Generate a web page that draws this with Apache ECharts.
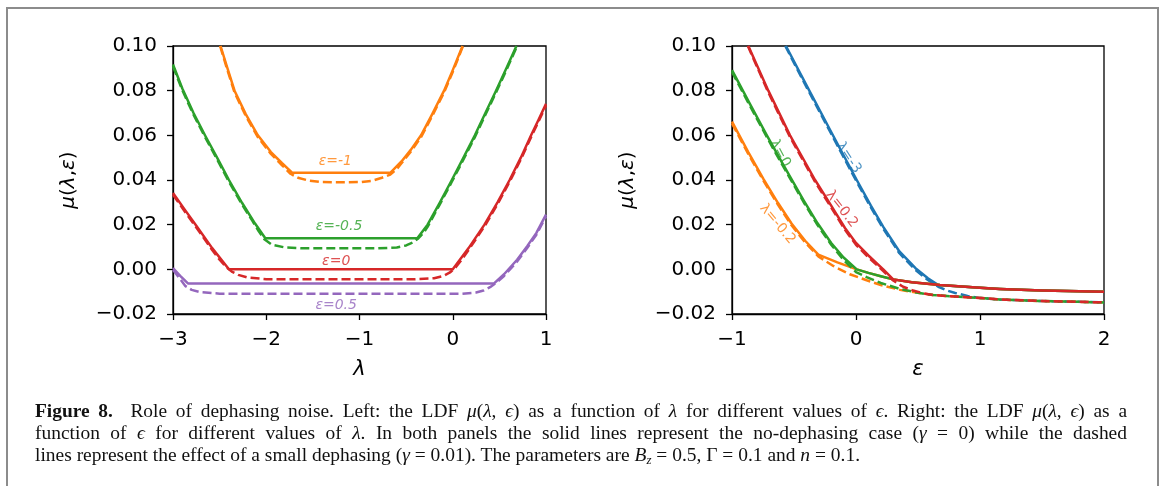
<!DOCTYPE html>
<html>
<head>
<meta charset="utf-8">
<script src="https://cdn.jsdelivr.net/npm/echarts/dist/echarts.min.js"></script>
<style>
  html, body { margin:0; padding:0; background:#fff; }
  #wrap { position:relative; width:1163px; height:486px; background:#fff; overflow:hidden; }
  #frame { position:absolute; left:6px; top:7px; width:1149px; height:520px; border:2px solid #8c8c8c; box-sizing:content-box; }
  #chart { position:absolute; left:0; top:0; width:1163px; height:486px; }
  .cap { position:absolute; left:35px; white-space:nowrap; font-family:"Liberation Serif", serif; font-size:18px; line-height:22px; color:#111; transform-origin:0 50%; }
  .cap i { font-style:italic; }
  .cap sub { font-size:12px; vertical-align:-3px; line-height:0; }
</style>
</head>
<body>
<div id="wrap">
  <div id="frame"></div>
  <div id="chart"></div>
  <div class="cap" id="cap1" style="top:400px"><b>Figure 8.</b>&nbsp; Role of dephasing noise. Left: the LDF <i>μ</i>(<i>λ</i>, <i>ϵ</i>) as a function of <i>λ</i> for different values of <i>ϵ</i>. Right: the LDF <i>μ</i>(<i>λ</i>, <i>ϵ</i>) as a</div>
  <div class="cap" id="cap2" style="top:422px">function of <i>ϵ</i> for different values of <i>λ</i>. In both panels the solid lines represent the no-dephasing case (<i>γ</i> = 0) while the dashed</div>
  <div class="cap" id="cap3" style="top:444px">lines represent the effect of a small dephasing (<i>γ</i> = 0.01). The parameters are <i>B</i><sub><i>z</i></sub> = 0.5, Γ = 0.1 and <i>n</i> = 0.1.</div>
</div>
<script>
// ---------------- Data: left panel (x = λ, y = μ), one curve per ε ----------------
const epsM1Solid = [[-2.49,0.100],[-2.42,0.0905],[-2.34,0.080],[-2.22,0.0695],[-2.09,0.060],[-1.95,0.0525],[-1.83,0.0475],[-1.72,0.0432],[-0.67,0.0432],[-0.55,0.0483],[-0.45,0.0535],[-0.34,0.060],[-0.22,0.0695],[-0.093,0.080],[0.0,0.0892],[0.105,0.100]];
const epsM1Dash = [[-2.495,0.100],[-2.42,0.0897],[-2.34,0.0792],[-2.22,0.0687],[-2.09,0.0592],[-1.95,0.0517],[-1.83,0.0466],[-1.74,0.0428],[-1.66,0.0410],[-1.55,0.0398],[-1.42,0.0391],[-1.2,0.0390],[-0.98,0.0391],[-0.86,0.0397],[-0.76,0.0410],[-0.67,0.0424],[-0.6,0.0449],[-0.55,0.0475],[-0.45,0.0527],[-0.34,0.0592],[-0.22,0.0687],[-0.093,0.0792],[0.0,0.0884],[0.11,0.100]];
const epsM05Solid = [[-3,0.0917],[-2.9,0.0810],[-2.78,0.0700],[-2.65,0.0595],[-2.52,0.0495],[-2.40,0.0400],[-2.26,0.0298],[-2.12,0.0205],[-2.01,0.0139],[-0.38,0.0139],[-0.27,0.020],[-0.14,0.0298],[-0.01,0.040],[0.115,0.050],[0.237,0.060],[0.35,0.070],[0.464,0.080],[0.575,0.090],[0.683,0.100]];
const epsM05Dash = [[-3,0.0909],[-2.9,0.0802],[-2.78,0.0692],[-2.65,0.0587],[-2.52,0.0487],[-2.40,0.0392],[-2.26,0.0290],[-2.15,0.0218],[-2.08,0.0170],[-2.02,0.0135],[-1.94,0.0110],[-1.8,0.0098],[-1.6,0.0094],[-0.8,0.0094],[-0.6,0.0098],[-0.5,0.0107],[-0.43,0.0120],[-0.37,0.0138],[-0.31,0.0165],[-0.27,0.0190],[-0.14,0.0290],[-0.01,0.0392],[0.115,0.0492],[0.237,0.0592],[0.35,0.0692],[0.464,0.0792],[0.575,0.0892],[0.69,0.100]];
const eps0Solid = [[-3,0.0342],[-2.87,0.0265],[-2.75,0.0195],[-2.58,0.0095],[-2.40,0.0],[0.0,0.0],[0.17,0.0095],[0.34,0.020],[0.48,0.030],[0.61,0.040],[0.73,0.050],[0.84,0.060],[0.92,0.067],[1.0,0.0741]];
const eps0Dash = [[-3,0.0334],[-2.87,0.0257],[-2.75,0.0187],[-2.58,0.0087],[-2.5,0.0043],[-2.43,0.0010],[-2.37,-0.0010],[-2.3,-0.0025],[-2.2,-0.0037],[-2.0,-0.0044],[-0.4,-0.0044],[-0.2,-0.0040],[-0.1,-0.0030],[-0.03,-0.0014],[0.03,0.0008],[0.1,0.0045],[0.17,0.0087],[0.34,0.0192],[0.48,0.0292],[0.61,0.0392],[0.73,0.0492],[0.84,0.0592],[0.92,0.0662],[1.0,0.0733]];
const eps05Solid = [[-3,0.0006],[-2.92,-0.0030],[-2.84,-0.0063],[0.443,-0.0063],[0.55,-0.0022],[0.69,0.0043],[0.80,0.0105],[0.897,0.0163],[1.0,0.0245]];
const eps05Dash = [[-3,-0.0002],[-2.93,-0.0040],[-2.87,-0.0074],[-2.8,-0.0092],[-2.71,-0.0102],[-2.5,-0.0109],[0.1,-0.0109],[0.25,-0.0104],[0.33,-0.0095],[0.4,-0.0080],[0.46,-0.0062],[0.55,-0.0030],[0.69,0.0035],[0.80,0.0097],[0.897,0.0155],[1.0,0.0237]];

// ---------------- Data: right panel (x = ε, y = μ), one curve per λ ----------------
const lamM3Solid = [[-0.565,0.100],[-0.40,0.0825],[-0.20,0.0615],[0.006,0.0400],[0.12,0.0285],[0.22,0.0190],[0.35,0.0080],[0.48,0.0005],[0.58,-0.0040],[0.664,-0.0070],[1.0,-0.0083],[1.16,-0.0088],[1.5,-0.0095],[2.0,-0.0100]];
const lamM3Dash = [[-0.57,0.100],[-0.40,0.0817],[-0.20,0.0607],[0.006,0.0392],[0.12,0.0277],[0.22,0.0182],[0.35,0.0072],[0.48,-0.0003],[0.58,-0.0048],[0.664,-0.0078],[0.73,-0.0094],[0.80,-0.0106],[0.90,-0.0119],[1.0,-0.0128],[1.16,-0.0135],[1.5,-0.0142],[2.0,-0.0148]];
const lamM02Solid = [[-1,0.0661],[-0.87,0.0526],[-0.747,0.0405],[-0.63,0.0298],[-0.52,0.0205],[-0.41,0.0128],[-0.304,0.0066],[-0.15,0.0031],[0.006,0.0],[0.1,-0.0016],[0.2,-0.0031],[0.30,-0.0045],[0.45,-0.0058],[0.677,-0.0070],[1.0,-0.0083],[1.16,-0.0088],[1.5,-0.0095],[2.0,-0.0100]];
const lamM02Dash = [[-1,0.0653],[-0.87,0.0518],[-0.747,0.0397],[-0.63,0.0290],[-0.52,0.0197],[-0.41,0.0120],[-0.304,0.0058],[-0.183,0.0015],[-0.05,-0.0022],[0.086,-0.0049],[0.2,-0.0070],[0.355,-0.0092],[0.5,-0.0105],[0.62,-0.0115],[0.8,-0.0122],[1.0,-0.0128],[1.16,-0.0135],[1.5,-0.0142],[2.0,-0.0148]];
const lam0Solid = [[-1,0.0892],[-0.86,0.0745],[-0.72,0.0601],[-0.62,0.0501],[-0.532,0.0415],[-0.42,0.0307],[-0.31,0.0206],[-0.2,0.0118],[-0.1,0.0053],[0.006,0.0],[0.1,-0.0016],[0.2,-0.0031],[0.30,-0.0045],[0.45,-0.0058],[0.677,-0.0070],[1.0,-0.0083],[1.16,-0.0088],[1.5,-0.0095],[2.0,-0.0100]];
const lam0Dash = [[-1,0.0884],[-0.86,0.0737],[-0.72,0.0593],[-0.62,0.0493],[-0.532,0.0407],[-0.42,0.0299],[-0.31,0.0198],[-0.2,0.0110],[-0.1,0.0042],[0.0,-0.0012],[0.086,-0.0035],[0.2,-0.0061],[0.355,-0.0088],[0.5,-0.0105],[0.62,-0.0115],[0.8,-0.0122],[1.0,-0.0128],[1.16,-0.0135],[1.5,-0.0142],[2.0,-0.0148]];
const lam02Solid = [[-0.868,0.100],[-0.707,0.080],[-0.532,0.060],[-0.33,0.040],[-0.2,0.0285],[-0.089,0.0185],[0.0,0.0118],[0.10,0.0062],[0.22,0.0],[0.30,-0.0045],[0.45,-0.0058],[0.677,-0.0070],[1.0,-0.0083],[1.16,-0.0088],[1.5,-0.0095],[2.0,-0.0100]];
const lam02Dash = [[-0.872,0.100],[-0.707,0.0792],[-0.532,0.0592],[-0.33,0.0392],[-0.2,0.0277],[-0.089,0.0177],[0.0,0.0110],[0.10,0.0054],[0.22,-0.0008],[0.30,-0.0050],[0.38,-0.0078],[0.46,-0.0095],[0.55,-0.0108],[0.62,-0.0115],[0.8,-0.0122],[1.0,-0.0128],[1.16,-0.0135],[1.5,-0.0142],[2.0,-0.0148]];

// ---------------- Curve labels ----------------
const leftLabelText = ['ε=-1', 'ε=-0.5', 'ε=0', 'ε=0.5'];
const leftLabelPos = [[-1.26, 0.0485], [-1.22, 0.0192], [-1.25, 0.0037], [-1.25, -0.0162]];
const rightLabelText = ['λ=-3', 'λ=0.2', 'λ=0', 'λ=-0.2'];
const rightLabelPos = [[-0.06, 0.0500], [-0.115, 0.0270], [-0.613, 0.0519], [-0.633, 0.0203]];
const rightLabelAngle = [-57, -52, -62, -50];

// ---------------- Axes ----------------
const leftXRange = [-3, 1];
const rightXRange = [-1, 2];
const yRange = [-0.02, 0.10];
const yStep = 0.02;
const xName = ['λ', 'ε'];
const yName = '{i|μ}({i|λ},{i|ε})';

const COL = { blue:'#1f77b4', orange:'#ff7f0e', green:'#2ca02c', red:'#d62728', purple:'#9467bd' };
const FONT = 'DejaVu Sans';

const fmtMinus = s => String(s).replace('-', '\u2212');

function xAx(gi, range, name) {
  return {
    type:'value', gridIndex:gi, min:range[0], max:range[1], interval:1,
    name:name, nameLocation:'middle', nameGap:45,
    nameTextStyle:{ fontFamily:FONT, fontSize:21, fontStyle:'italic', color:'#000' },
    axisLine:{ show:true, onZero:false, lineStyle:{ color:'#000', width:1.3 } },
    axisTick:{ show:true, inside:false, length:6, lineStyle:{ color:'#000', width:1.3 } },
    axisLabel:{ fontFamily:FONT, fontSize:20, color:'#000', margin:16, formatter:v => fmtMinus(v) },
    splitLine:{ show:false }
  };
}
function yAx(gi) {
  return {
    type:'value', gridIndex:gi, min:yRange[0], max:yRange[1], interval:yStep,
    name:yName, nameLocation:'middle', nameGap:94, nameRotate:90,
    nameTextStyle:{ fontFamily:FONT, fontSize:20, color:'#000', rich:{ i:{ fontFamily:FONT, fontSize:20, fontStyle:'italic', color:'#000' } } },
    axisLine:{ show:true, onZero:false, lineStyle:{ color:'#000', width:1.3 } },
    axisTick:{ show:true, inside:false, length:6, lineStyle:{ color:'#000', width:1.3 } },
    axisLabel:{ fontFamily:FONT, fontSize:20, color:'#000', margin:16, formatter:v => fmtMinus(v.toFixed(2)) },
    splitLine:{ show:false }
  };
}
function line(gi, data, color, dashed) {
  return {
    type:'line', xAxisIndex:gi, yAxisIndex:gi, data:data, symbol:'none', showSymbol:false,
    smooth:false, clip:true, silent:true, animation:false,
    lineStyle:{ color:color, width:2.5, type: dashed ? [9, 4] : 'solid', cap:'butt', join:'round' },
    itemStyle:{ color:color }
  };
}
function labels(gi, texts, pos, colors, italic, angles) {
  return {
    type:'scatter', xAxisIndex:gi, yAxisIndex:gi, symbolSize:1, silent:true, animation:false, z:5,
    itemStyle:{ color:'rgba(0,0,0,0)' },
    data: texts.map((t, k) => ({
      value: pos[k],
      label:{ show:true, position:'inside', formatter:t, color:colors[k],
              fontFamily:FONT, fontSize:14, fontStyle: italic ? 'italic' : 'normal',
              rotate: angles ? angles[k] : 0 }
    }))
  };
}

const chart = echarts.init(document.getElementById('chart'), null, { renderer:'canvas', devicePixelRatio:1 });
chart.setOption({
  backgroundColor:'transparent',
  animation:false,
  grid:[
    { left:173, top:46, width:373, height:268, show:true, borderColor:'#000', borderWidth:1.3, backgroundColor:'transparent' },
    { left:732, top:46, width:372, height:268, show:true, borderColor:'#000', borderWidth:1.3, backgroundColor:'transparent' }
  ],
  xAxis:[ xAx(0, leftXRange, xName[0]), xAx(1, rightXRange, xName[1]) ],
  yAxis:[ yAx(0), yAx(1) ],
  series:[
    line(0, epsM1Solid, COL.orange, false), line(0, epsM1Dash, COL.orange, true),
    line(0, epsM05Solid, COL.green, false), line(0, epsM05Dash, COL.green, true),
    line(0, eps0Solid, COL.red, false), line(0, eps0Dash, COL.red, true),
    line(0, eps05Solid, COL.purple, false), line(0, eps05Dash, COL.purple, true),
    line(1, lamM3Solid, COL.blue, false), line(1, lamM3Dash, COL.blue, true),
    line(1, lamM02Solid, COL.orange, false), line(1, lamM02Dash, COL.orange, true),
    line(1, lam0Solid, COL.green, false), line(1, lam0Dash, COL.green, true),
    line(1, lam02Solid, COL.red, false), line(1, lam02Dash, COL.red, true),
    labels(0, leftLabelText, leftLabelPos, [COL.orange, COL.green, COL.red, COL.purple], true, null),
    labels(1, rightLabelText, rightLabelPos, [COL.blue, COL.red, COL.green, COL.orange], false, rightLabelAngle)
  ]
});

// fit caption: glyph scale from the (unjustified) last line, justify the first two with word spacing
(function () {
  const el3 = document.getElementById('cap3');
  const s = 825 / el3.getBoundingClientRect().width;
  el3.style.transform = 'scaleX(' + s + ')';
  ['cap1', 'cap2'].forEach(id => {
    const el = document.getElementById(id);
    const w = el.getBoundingClientRect().width;
    const nSp = (el.textContent.match(/ /g) || []).length;
    const extra = (1092 / s - w) / Math.max(nSp, 1);
    el.style.wordSpacing = extra + 'px';
    const w2 = el.getBoundingClientRect().width;
    el.style.transform = 'scaleX(' + (1092 / w2) + ')';
  });
})();
</script>
</body>
</html>
